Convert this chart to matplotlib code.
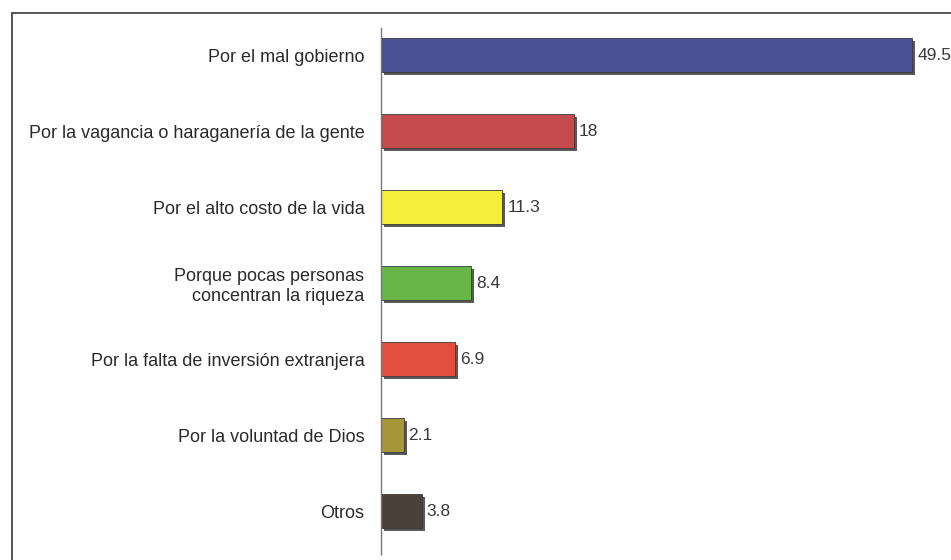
import matplotlib
matplotlib.use('Agg')
import matplotlib.pyplot as plt
import matplotlib.patheffects as pe
from matplotlib.lines import Line2D

plt.rcParams['font.family'] = ['Liberation Sans', 'DejaVu Sans']

# Data
categories = [
    'Por el mal gobierno',
    'Por la vagancia o haraganería de la gente',
    'Por el alto costo de la vida',
    'Porque pocas personas\nconcentran la riqueza',
    'Por la falta de inversión extranjera',
    'Por la voluntad de Dios',
    'Otros',
]
values = [49.5, 18, 11.3, 8.4, 6.9, 2.1, 3.8]
value_labels = ['49.5', '18', '11.3', '8.4', '6.9', '2.1', '3.8']
colors = ['#4b5195', '#c54a4c', '#f3ef3b', '#67b647', '#e2503d', '#a7973a', '#4b403a']

fig = plt.figure(figsize=(9.51, 5.6), dpi=100)
ax = fig.add_axes([381/951, 1 - 549/560, 570/951, 532/560])

ypos = list(range(len(values)))
bars = ax.barh(ypos, values, height=0.44, color=colors,
               edgecolor='#3a3a3a', linewidth=0.6)
for b in bars:
    b.set_path_effects([pe.SimplePatchShadow(offset=(2.2, -2.2), shadow_rgbFace='#3c3c3c', alpha=0.85),
                        pe.Normal()])

for y, v, lab in zip(ypos, values, value_labels):
    ax.text(v + 0.45, y, lab, va='center', ha='left', fontsize=12.5, color='#3a3a3a')

ax.set_yticks(ypos)
ax.set_yticklabels(categories, fontsize=13, color='#2a2a2a', ha='right', multialignment='right')
ax.set_ylim(len(values) - 0.5, -0.5)
ax.set_xlim(0, 53.1)
ax.tick_params(axis='y', length=0, pad=12)
ax.set_xticks([])

for s in ['top', 'right', 'bottom']:
    ax.spines[s].set_visible(False)
ax.spines['left'].set_color('#777777')
ax.spines['left'].set_linewidth(1.0)
ax.spines['left'].set_linestyle((0, (1, 1)))
ax.spines['left'].set_bounds(-0.36, 6.58)
ax.spines['left'].set_clip_on(False)

# outer frame (left and top edges)
fig.add_artist(Line2D([12/951, 12/951], [0, 1 - 13/560], color='#555555', lw=1.4))
fig.add_artist(Line2D([12/951, 1], [1 - 13/560, 1 - 13/560], color='#555555', lw=1.4))

fig.savefig('out.png', dpi=100, facecolor='white')
